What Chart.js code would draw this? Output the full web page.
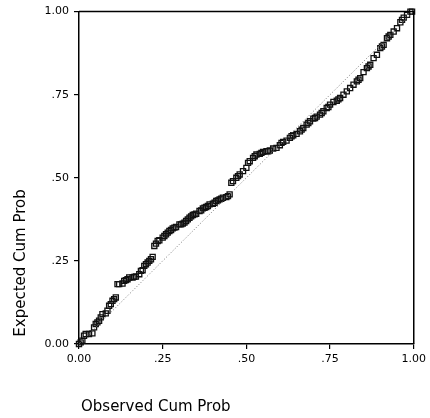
<!DOCTYPE html>
<html>
<head>
<meta charset="utf-8">
<script src="https://cdn.jsdelivr.net/npm/chart.js@4"></script>
<style>
  html, body { margin: 0; padding: 0; background: #fff; }
  #wrap { width: 430px; height: 418px; }
</style>
</head>
<body>
<div id="wrap"><canvas id="pp" width="430" height="418"></canvas></div>
<script>
// P-P plot: observed vs expected cumulative probability
var observedCum = [
  0.000, 0.005, 0.010, 0.015, 0.020, 0.030, 0.040, 0.045, 0.050, 0.055,
  0.060, 0.065, 0.070, 0.080, 0.085, 0.090, 0.095, 0.100, 0.105, 0.110,
  0.115, 0.120, 0.130, 0.135, 0.140, 0.145, 0.150, 0.160, 0.165, 0.170,
  0.180, 0.185, 0.190, 0.195, 0.200, 0.205, 0.210, 0.215, 0.220, 0.225,
  0.230, 0.235, 0.240, 0.250, 0.255, 0.260, 0.265, 0.270, 0.275, 0.280,
  0.285, 0.290, 0.300, 0.305, 0.310, 0.315, 0.320, 0.325, 0.330, 0.335,
  0.340, 0.345, 0.350, 0.360, 0.365, 0.370, 0.375, 0.380, 0.385, 0.390,
  0.400, 0.405, 0.410, 0.415, 0.420, 0.425, 0.430, 0.440, 0.445, 0.450,
  0.455, 0.460, 0.470, 0.475, 0.480, 0.490, 0.500, 0.505, 0.510, 0.520,
  0.525, 0.530, 0.540, 0.545, 0.550, 0.560, 0.565, 0.570, 0.580, 0.590,
  0.600, 0.605, 0.610, 0.620, 0.630, 0.635, 0.640, 0.650, 0.660, 0.665,
  0.670, 0.680, 0.685, 0.690, 0.700, 0.705, 0.710, 0.720, 0.725, 0.730,
  0.740, 0.745, 0.750, 0.760, 0.770, 0.775, 0.780, 0.790, 0.800, 0.810,
  0.820, 0.830, 0.835, 0.840, 0.850, 0.860, 0.865, 0.870, 0.880, 0.890,
  0.900, 0.905, 0.910, 0.920, 0.925, 0.930, 0.940, 0.950, 0.960, 0.965,
  0.970, 0.980, 0.990, 0.995
];
var expectedCum = [
  0.000, 0.005, 0.010, 0.025, 0.030, 0.030, 0.032, 0.050, 0.060, 0.065,
  0.070, 0.080, 0.090, 0.092, 0.100, 0.115, 0.120, 0.130, 0.135, 0.140,
  0.180, 0.180, 0.182, 0.190, 0.192, 0.195, 0.200, 0.200, 0.202, 0.203,
  0.210, 0.220, 0.222, 0.235, 0.240, 0.245, 0.250, 0.255, 0.262, 0.295,
  0.302, 0.310, 0.312, 0.320, 0.325, 0.330, 0.335, 0.340, 0.343, 0.348,
  0.350, 0.352, 0.360, 0.360, 0.362, 0.365, 0.370, 0.375, 0.380, 0.384,
  0.388, 0.390, 0.392, 0.400, 0.402, 0.408, 0.410, 0.412, 0.415, 0.420,
  0.422, 0.425, 0.430, 0.432, 0.435, 0.437, 0.440, 0.442, 0.445, 0.450,
  0.485, 0.490, 0.500, 0.505, 0.510, 0.520, 0.530, 0.545, 0.550, 0.560,
  0.565, 0.570, 0.572, 0.575, 0.578, 0.580, 0.580, 0.582, 0.588, 0.590,
  0.598, 0.605, 0.608, 0.612, 0.620, 0.625, 0.628, 0.632, 0.640, 0.645,
  0.650, 0.660, 0.665, 0.670, 0.678, 0.680, 0.684, 0.690, 0.695, 0.700,
  0.710, 0.713, 0.720, 0.728, 0.732, 0.736, 0.740, 0.750, 0.760, 0.770,
  0.780, 0.790, 0.795, 0.800, 0.818, 0.830, 0.835, 0.840, 0.860, 0.870,
  0.890, 0.895, 0.900, 0.920, 0.925, 0.930, 0.940, 0.950, 0.968, 0.975,
  0.982, 0.990, 1.000, 1.000
];
var refLine = [0, 1];
var tickValues = [0, 0.25, 0.5, 0.75, 1];
var tickLabels = ["0.00", ".25", ".50", ".75", "1.00"];
var xTitle = "Observed Cum Prob";
var yTitle = "Expected Cum Prob";

var points = observedCum.map(function (v, i) {
  return { x: v, y: expectedCum[i] };
});
var diag = refLine.map(function (v) {
  return { x: v, y: v };
});

function fmtTick(value) {
  for (var i = 0; i < tickValues.length; i++) {
    if (Math.abs(value - tickValues[i]) < 1e-6) return tickLabels[i];
  }
  return "";
}

// frame (top + right) and the two axis titles
var framePlugin = {
  id: "frame",
  afterDraw: function (chart) {
    var ctx = chart.ctx;
    var a = chart.chartArea;
    ctx.save();
    ctx.strokeStyle = "#000";
    ctx.lineWidth = 1.5;
    ctx.beginPath();
    ctx.moveTo(a.left, a.top);
    ctx.lineTo(a.right, a.top);
    ctx.lineTo(a.right, a.bottom);
    ctx.stroke();

    ctx.fillStyle = "#000";
    ctx.font = "15px 'DejaVu Sans'";
    ctx.textBaseline = "middle";
    ctx.textAlign = "left";
    ctx.fillText(xTitle, 81, 407);

    ctx.translate(21, 263);
    ctx.rotate(-Math.PI / 2);
    ctx.textAlign = "center";
    ctx.fillText(yTitle, 0, 0);
    ctx.restore();
  }
};

var axisCommon = {
  type: "linear",
  min: 0,
  max: 1,
  grid: {
    display: true,
    drawOnChartArea: false,
    drawTicks: true,
    tickLength: 5,
    color: "#000",
    lineWidth: 1.2
  },
  border: { display: true, color: "#000", width: 1.5 },
  title: { display: false },
  afterBuildTicks: function (scale) {
    scale.ticks = tickValues.map(function (v) { return { value: v }; });
  }
};

var ctx = document.getElementById("pp").getContext("2d");
new Chart(ctx, {
  type: "scatter",
  data: {
    datasets: [
      {
        type: "line",
        data: diag,
        borderColor: "#777",
        borderWidth: 1,
        borderDash: [1, 2],
        pointRadius: 0,
        fill: false
      },
      {
        data: points,
        pointStyle: "rect",
        pointRadius: 3.6,
        borderWidth: 1.3,
        borderColor: "#111",
        backgroundColor: "rgba(255,255,255,0)",
        clip: false
      }
    ]
  },
  options: {
    responsive: false,
    animation: false,
    layout: { padding: { top: 10, right: 11, left: 0, bottom: 0 } },
    plugins: {
      legend: { display: false },
      tooltip: { enabled: false }
    },
    scales: {
      x: Object.assign({}, axisCommon, {
        position: "bottom",
        ticks: {
          color: "#000",
          font: { family: "DejaVu Sans", size: 11 },
          padding: 4,
          maxRotation: 0,
          autoSkip: false,
          callback: fmtTick
        },
        afterFit: function (scale) { scale.height = 74; }
      }),
      y: Object.assign({}, axisCommon, {
        position: "left",
        ticks: {
          color: "#000",
          font: { family: "DejaVu Sans", size: 11 },
          padding: 5,
          autoSkip: false,
          callback: fmtTick
        },
        afterFit: function (scale) { scale.width = 79; }
      })
    }
  },
  plugins: [framePlugin]
});
</script>
</body>
</html>
